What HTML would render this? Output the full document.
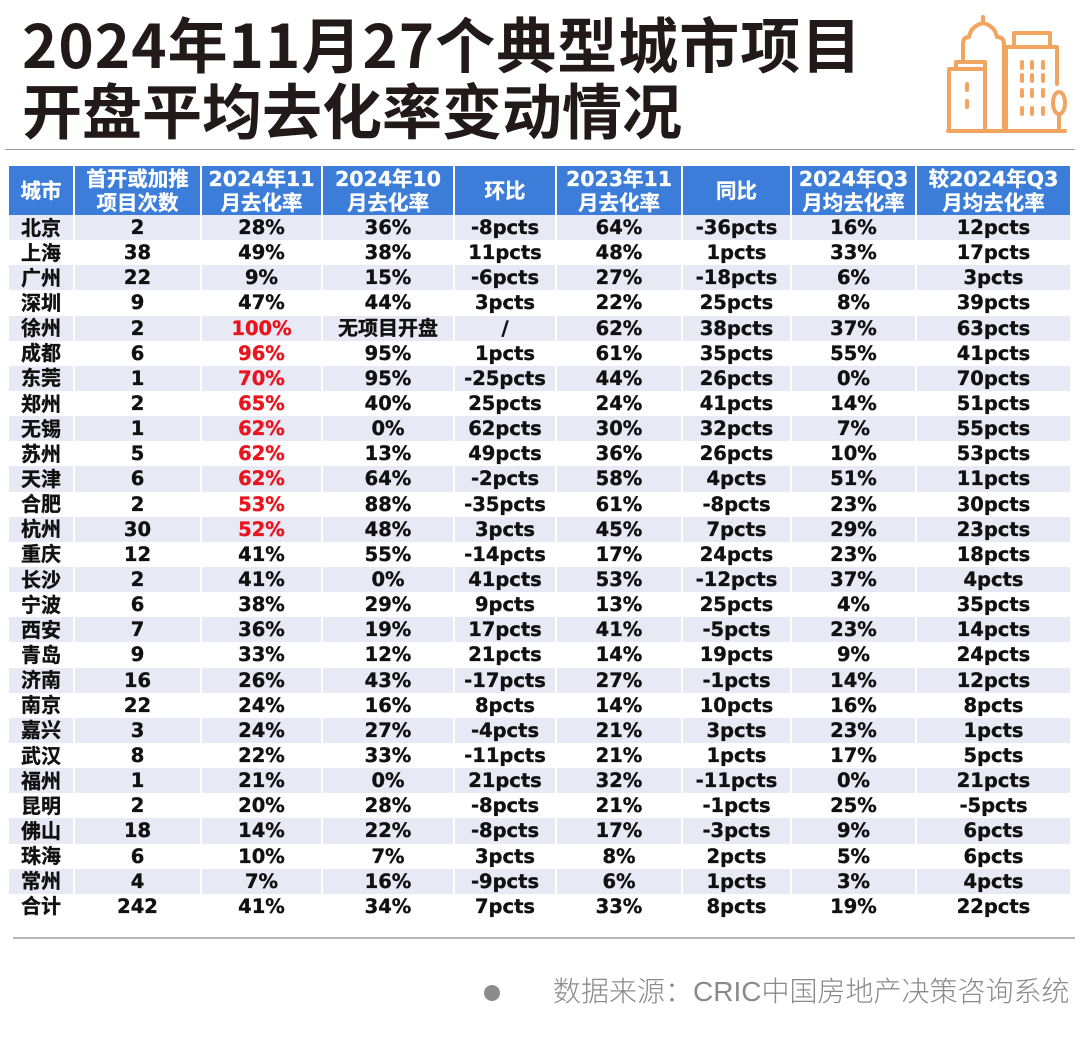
<!DOCTYPE html>
<html><head><meta charset="utf-8">
<style>
*{margin:0;padding:0;box-sizing:border-box}
body{width:1080px;height:1050px;background:#fff;position:relative;overflow:hidden;font-family:"DejaVu Sans","Noto Sans CJK SC",sans-serif}
.title{position:absolute;left:22px;font-family:"Noto Sans CJK SC","Liberation Sans",sans-serif;font-weight:700;font-size:60px;line-height:60px;color:#221a18;white-space:nowrap}
.hl{position:absolute;height:0}
#grid{position:absolute;left:9px;top:166px;width:1061px;display:grid;grid-template-columns:66px 127px 121px 132px 102px 126px 109px 125px 153px;grid-template-rows:49px repeat(28,25.15px)}
#grid div{display:flex;align-items:center;justify-content:center;border-right:2px solid #fff;font-weight:700;font-size:19.5px;color:#111;white-space:nowrap;text-align:center;-webkit-text-stroke:0.35px #111}
#grid div:nth-child(9n){border-right:none}
#grid .h{background:#3b7dd8;color:#fff;font-size:20.5px;line-height:24px;-webkit-text-stroke:0.3px #fff}
#grid .s{background:#e7e9f4}
#grid .r{color:#e8141e;-webkit-text-stroke:0.35px #e8141e}
#grid .c{font-family:"Noto Sans CJK SC",sans-serif;font-size:20px;padding-bottom:3px}
.foot{position:absolute;left:553px;top:977px;font-family:"Liberation Sans","Noto Sans CJK SC",sans-serif;font-weight:300;font-size:28px;line-height:30px;color:#8a8a8a;white-space:nowrap}
</style></head><body>
<div class="title" style="top:13px;letter-spacing:1px">2024年11月27个典型城市项目</div>
<div class="title" style="top:79px">开盘平均去化率变动情况</div>

<svg style="position:absolute;left:0;top:0" width="1080" height="150" viewBox="0 0 1080 150">
<g stroke="#f2a461" stroke-width="4" fill="none" stroke-linecap="round" stroke-linejoin="round">
<path d="M948 131 H1065"/>
<path d="M963 62 V44 Q963 37 969 37 Q971 26 983 23 Q995 26 997 37 Q1004 37 1004 44 V131"/>
<path d="M983 23 V17"/>
<path d="M956 69 V62 H985 V69"/>
<path d="M949 131 V69 H985 V131"/>
<path d="M967 84 V90 M967 101 V107"/>
<path d="M1014 47 V33 H1050 V47"/>
<path d="M1006 131 V47 H1057 V84"/>
<path d="M1022 62 V68 M1032 62 V68 M1043 62 V68 M1022 75 V81 M1032 75 V81 M1043 75 V81 M1022 90 V96 M1032 90 V96 M1043 90 V96 M1022 108 V114 M1032 108 V114 M1043 108 V114"/>
<ellipse cx="1059" cy="103" rx="6" ry="11"/>
<path d="M1059 114 V131"/>
</g>
</svg>

<div class="hl" style="left:5px;top:149px;width:1070px;border-top:1.5px solid #9a9a9a"></div>

<div id="grid">
<div class="h">城市</div><div class="h">首开或加推<br>项目次数</div><div class="h">2024年11<br>月去化率</div><div class="h">2024年10<br>月去化率</div><div class="h">环比</div><div class="h">2023年11<br>月去化率</div><div class="h">同比</div><div class="h">2024年Q3<br>月均去化率</div><div class="h">较2024年Q3<br>月均去化率</div>

<div class="s c">北京</div><div class="s">2</div><div class="s">28%</div><div class="s">36%</div><div class="s">-8pcts</div><div class="s">64%</div><div class="s">-36pcts</div><div class="s">16%</div><div class="s">12pcts</div>
<div class="c">上海</div><div>38</div><div>49%</div><div>38%</div><div>11pcts</div><div>48%</div><div>1pcts</div><div>33%</div><div>17pcts</div>
<div class="s c">广州</div><div class="s">22</div><div class="s">9%</div><div class="s">15%</div><div class="s">-6pcts</div><div class="s">27%</div><div class="s">-18pcts</div><div class="s">6%</div><div class="s">3pcts</div>
<div class="c">深圳</div><div>9</div><div>47%</div><div>44%</div><div>3pcts</div><div>22%</div><div>25pcts</div><div>8%</div><div>39pcts</div>
<div class="s c">徐州</div><div class="s">2</div><div class="s r">100%</div><div class="s c">无项目开盘</div><div class="s">/</div><div class="s">62%</div><div class="s">38pcts</div><div class="s">37%</div><div class="s">63pcts</div>
<div class="c">成都</div><div>6</div><div class="r">96%</div><div>95%</div><div>1pcts</div><div>61%</div><div>35pcts</div><div>55%</div><div>41pcts</div>
<div class="s c">东莞</div><div class="s">1</div><div class="s r">70%</div><div class="s">95%</div><div class="s">-25pcts</div><div class="s">44%</div><div class="s">26pcts</div><div class="s">0%</div><div class="s">70pcts</div>
<div class="c">郑州</div><div>2</div><div class="r">65%</div><div>40%</div><div>25pcts</div><div>24%</div><div>41pcts</div><div>14%</div><div>51pcts</div>
<div class="s c">无锡</div><div class="s">1</div><div class="s r">62%</div><div class="s">0%</div><div class="s">62pcts</div><div class="s">30%</div><div class="s">32pcts</div><div class="s">7%</div><div class="s">55pcts</div>
<div class="c">苏州</div><div>5</div><div class="r">62%</div><div>13%</div><div>49pcts</div><div>36%</div><div>26pcts</div><div>10%</div><div>53pcts</div>
<div class="s c">天津</div><div class="s">6</div><div class="s r">62%</div><div class="s">64%</div><div class="s">-2pcts</div><div class="s">58%</div><div class="s">4pcts</div><div class="s">51%</div><div class="s">11pcts</div>
<div class="c">合肥</div><div>2</div><div class="r">53%</div><div>88%</div><div>-35pcts</div><div>61%</div><div>-8pcts</div><div>23%</div><div>30pcts</div>
<div class="s c">杭州</div><div class="s">30</div><div class="s r">52%</div><div class="s">48%</div><div class="s">3pcts</div><div class="s">45%</div><div class="s">7pcts</div><div class="s">29%</div><div class="s">23pcts</div>
<div class="c">重庆</div><div>12</div><div>41%</div><div>55%</div><div>-14pcts</div><div>17%</div><div>24pcts</div><div>23%</div><div>18pcts</div>
<div class="s c">长沙</div><div class="s">2</div><div class="s">41%</div><div class="s">0%</div><div class="s">41pcts</div><div class="s">53%</div><div class="s">-12pcts</div><div class="s">37%</div><div class="s">4pcts</div>
<div class="c">宁波</div><div>6</div><div>38%</div><div>29%</div><div>9pcts</div><div>13%</div><div>25pcts</div><div>4%</div><div>35pcts</div>
<div class="s c">西安</div><div class="s">7</div><div class="s">36%</div><div class="s">19%</div><div class="s">17pcts</div><div class="s">41%</div><div class="s">-5pcts</div><div class="s">23%</div><div class="s">14pcts</div>
<div class="c">青岛</div><div>9</div><div>33%</div><div>12%</div><div>21pcts</div><div>14%</div><div>19pcts</div><div>9%</div><div>24pcts</div>
<div class="s c">济南</div><div class="s">16</div><div class="s">26%</div><div class="s">43%</div><div class="s">-17pcts</div><div class="s">27%</div><div class="s">-1pcts</div><div class="s">14%</div><div class="s">12pcts</div>
<div class="c">南京</div><div>22</div><div>24%</div><div>16%</div><div>8pcts</div><div>14%</div><div>10pcts</div><div>16%</div><div>8pcts</div>
<div class="s c">嘉兴</div><div class="s">3</div><div class="s">24%</div><div class="s">27%</div><div class="s">-4pcts</div><div class="s">21%</div><div class="s">3pcts</div><div class="s">23%</div><div class="s">1pcts</div>
<div class="c">武汉</div><div>8</div><div>22%</div><div>33%</div><div>-11pcts</div><div>21%</div><div>1pcts</div><div>17%</div><div>5pcts</div>
<div class="s c">福州</div><div class="s">1</div><div class="s">21%</div><div class="s">0%</div><div class="s">21pcts</div><div class="s">32%</div><div class="s">-11pcts</div><div class="s">0%</div><div class="s">21pcts</div>
<div class="c">昆明</div><div>2</div><div>20%</div><div>28%</div><div>-8pcts</div><div>21%</div><div>-1pcts</div><div>25%</div><div>-5pcts</div>
<div class="s c">佛山</div><div class="s">18</div><div class="s">14%</div><div class="s">22%</div><div class="s">-8pcts</div><div class="s">17%</div><div class="s">-3pcts</div><div class="s">9%</div><div class="s">6pcts</div>
<div class="c">珠海</div><div>6</div><div>10%</div><div>7%</div><div>3pcts</div><div>8%</div><div>2pcts</div><div>5%</div><div>6pcts</div>
<div class="s c">常州</div><div class="s">4</div><div class="s">7%</div><div class="s">16%</div><div class="s">-9pcts</div><div class="s">6%</div><div class="s">1pcts</div><div class="s">3%</div><div class="s">4pcts</div>
<div class="c">合计</div><div>242</div><div>41%</div><div>34%</div><div>7pcts</div><div>33%</div><div>8pcts</div><div>19%</div><div>22pcts</div>
</div>

<div class="hl" style="left:13px;top:937px;width:1062px;border-top:2px solid #b8b8b8"></div>

<div style="position:absolute;left:484px;top:985px;width:16px;height:16px;border-radius:50%;background:#8c8c8c"></div>
<div class="foot">数据来源：CRIC中国房地产决策咨询系统</div>
</body></html>
